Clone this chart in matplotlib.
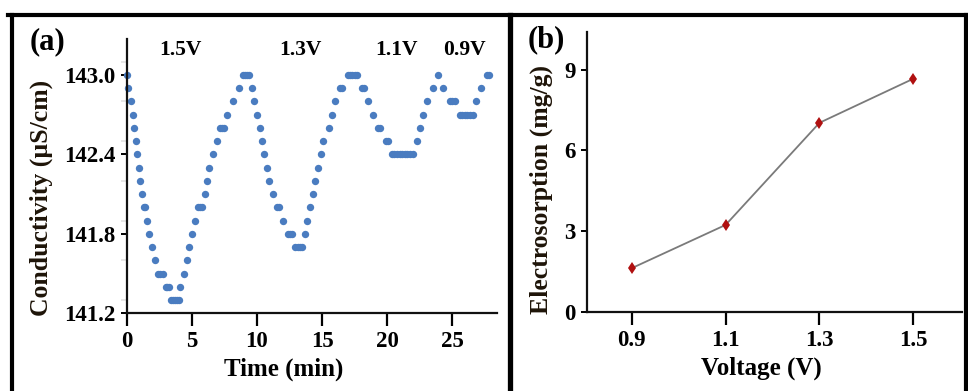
import matplotlib
matplotlib.use("Agg")
import matplotlib.pyplot as plt
from matplotlib.lines import Line2D
from matplotlib.ticker import MultipleLocator

plt.rcParams["font.family"] = ["Liberation Serif", "DejaVu Serif"]
plt.rcParams["font.weight"] = "bold"

# (a) conductivity vs time, one dot per logged reading
time_min = [
    0.05, 0.13, 0.33, 0.46, 0.59, 0.71, 0.82, 0.94, 1.02, 1.15, 1.30, 1.38,
    1.53, 1.71, 1.97, 2.20, 2.44, 2.58, 2.75, 3.00, 3.13, 3.26, 3.38, 3.55,
    3.71, 3.87, 4.03, 4.09, 4.36, 4.60, 4.78, 4.98, 5.24, 5.50, 5.65, 5.80,
    6.00, 6.13, 6.34, 6.64, 6.95, 7.15, 7.32, 7.50, 7.72, 8.18, 8.62, 8.96,
    9.10, 9.24, 9.38, 9.62, 9.80, 10.00, 10.20, 10.38, 10.55, 10.76, 10.96,
    11.20, 11.55, 11.68, 12.00, 12.35, 12.52, 12.70, 12.95, 13.12, 13.30,
    13.45, 13.67, 13.85, 14.06, 14.30, 14.46, 14.65, 14.90, 15.10, 15.50,
    15.72, 15.97, 16.40, 16.55, 16.99, 17.15, 17.32, 17.50, 17.68, 18.05,
    18.25, 18.53, 18.91, 19.30, 19.45, 19.90, 20.06, 20.35, 20.55, 20.75,
    20.95, 21.15, 21.35, 21.55, 21.75, 21.95, 22.28, 22.49, 22.78, 23.06,
    23.50, 23.88, 24.30, 24.80, 25.00, 25.20, 25.55, 25.75, 25.95, 26.15,
    26.35, 26.55, 26.80, 27.17, 27.65, 27.80,
]
conductivity = [
    143.0, 142.9, 142.8, 142.7, 142.6, 142.5, 142.4, 142.3, 142.2, 142.1, 142.0, 142.0,
    141.9, 141.8, 141.7, 141.6, 141.5, 141.5, 141.5, 141.4, 141.4, 141.4, 141.3, 141.3,
    141.3, 141.3, 141.3, 141.4, 141.5, 141.6, 141.7, 141.8, 141.9, 142.0, 142.0, 142.0,
    142.1, 142.2, 142.3, 142.4, 142.5, 142.6, 142.6, 142.6, 142.7, 142.8, 142.9, 143.0,
    143.0, 143.0, 143.0, 142.9, 142.8, 142.7, 142.6, 142.5, 142.4, 142.3, 142.2,
    142.1, 142.0, 142.0, 141.9, 141.8, 141.8, 141.8, 141.7, 141.7, 141.7,
    141.7, 141.8, 141.9, 142.0, 142.1, 142.2, 142.3, 142.4, 142.5, 142.6,
    142.7, 142.8, 142.9, 142.9, 143.0, 143.0, 143.0, 143.0, 143.0, 142.9,
    142.9, 142.8, 142.7, 142.6, 142.6, 142.5, 142.5, 142.4, 142.4, 142.4,
    142.4, 142.4, 142.4, 142.4, 142.4, 142.4, 142.5, 142.6, 142.7, 142.8,
    142.9, 143.0, 142.9, 142.8, 142.8, 142.8, 142.7, 142.7, 142.7, 142.7,
    142.7, 142.7, 142.8, 142.9, 143.0, 143.0,
]
stage_labels = ["1.5V", "1.3V", "1.1V", "0.9V"]
stage_label_x = [4.1, 13.3, 20.7, 25.9]

# (b) electrosorption capacity per applied voltage
voltage = [0.9, 1.1, 1.3, 1.5]
electrosorption = [1.62, 3.23, 7.03, 8.67]

W, H = 968, 391
fig = plt.figure(figsize=(W / 100, H / 100), dpi=100)

label_color = "#1e1408"
TICK_SIZE = 16.5


def style_axes(ax):
    for side in ("top", "right"):
        ax.spines[side].set_visible(False)
    for side in ("left", "bottom"):
        ax.spines[side].set_linewidth(1.6)
        ax.spines[side].set_color("#111111")
    ax.tick_params(axis="x", which="major", direction="out", length=9, width=1.6, pad=4)
    ax.tick_params(axis="y", which="major", direction="out", length=4, width=1.4, pad=4)
    ax.tick_params(which="minor", color="#e2e2e2", width=1.2)
    for lab in ax.get_xticklabels() + ax.get_yticklabels():
        lab.set_fontsize(TICK_SIZE)
        lab.set_fontweight("bold")


# --- panel (a)
ax1 = fig.add_axes([126.7 / W, 1 - 313.3 / H, 370 / W, 274.3 / H])
ax1.plot(time_min, conductivity, "o", color="#4a7cc0", markersize=5.3,
         markeredgewidth=0, clip_on=False)
ax1.set_xlim(0, 28.4)
ax1.set_ylim(141.2, 143.27)
ax1.set_xticks([0, 5, 10, 15, 20, 25])
ax1.set_yticks([141.2, 141.8, 142.4, 143.0])
ax1.set_yticklabels(["141.2", "141.8", "142.4", "143.0"])
ax1.yaxis.set_minor_locator(MultipleLocator(0.3))
ax1.tick_params(axis="y", which="minor", length=4)
style_axes(ax1)
ax1.set_xlabel("Time (min)", fontsize=18, fontweight="bold")
ax1.xaxis.set_label_coords(0.425, -0.203)
ax1.xaxis.label.set_va("center")
ax1.set_ylabel("Conductivity (µS/cm)", fontsize=18.5, fontweight="bold", color=label_color)
ax1.yaxis.set_label_coords(-0.23, 0.422)
ax1.yaxis.label.set_va("center")
for txt, xv in zip(stage_labels, stage_label_x):
    ax1.text(xv, 143.19, txt, ha="center", va="center", fontsize=15.5, fontweight="bold")

# --- panel (b)
ax2 = fig.add_axes([586.7 / W, 1 - 311.7 / H, 375 / W, 280 / H])
ax2.plot(voltage, electrosorption, "-", color="#7a7a7a", linewidth=1.3, zorder=2)
ax2.plot(voltage, electrosorption, "d", color="#b01010", markersize=6.5,
         markeredgewidth=0, zorder=3)
ax2.set_xlim(0.804, 1.603)
ax2.set_ylim(0, 10.42)
ax2.set_xticks(voltage)
ax2.set_xticklabels(["0.9", "1.1", "1.3", "1.5"])
ax2.set_yticks([0, 3, 6, 9])
ax2.xaxis.set_minor_locator(MultipleLocator(0.2, offset=0.1))
ax2.tick_params(axis="x", which="minor", length=9)
style_axes(ax2)
ax2.set_xlabel("Voltage (V)", fontsize=18, fontweight="bold")
ax2.xaxis.set_label_coords(0.467, -0.201)
ax2.xaxis.label.set_va("center")
ax2.set_ylabel("Electrosorption (mg/g)", fontsize=18.5, fontweight="bold", color=label_color)
ax2.yaxis.set_label_coords(-0.12, 0.435)
ax2.yaxis.label.set_va("center")

# panel tags
fig.text(30 / W, 1 - 42 / H, "(a)", fontsize=22, fontweight="bold", va="center", ha="left")
fig.text(528 / W, 1 - 40 / H, "(b)", fontsize=22, fontweight="bold", va="center", ha="left")

# frame around the two panels
top = 1 - 15 / H
fig.add_artist(Line2D([0.0085, 0.9995], [top, top], color="black", linewidth=3.0,
                      transform=fig.transFigure))
for xpix, lw in ((12, 3.0), (509.5, 3.8), (965.5, 3.0)):
    fig.add_artist(Line2D([xpix / W, xpix / W], [0, top], color="black", linewidth=lw,
                          transform=fig.transFigure))

fig.savefig("out.png", dpi=100)
